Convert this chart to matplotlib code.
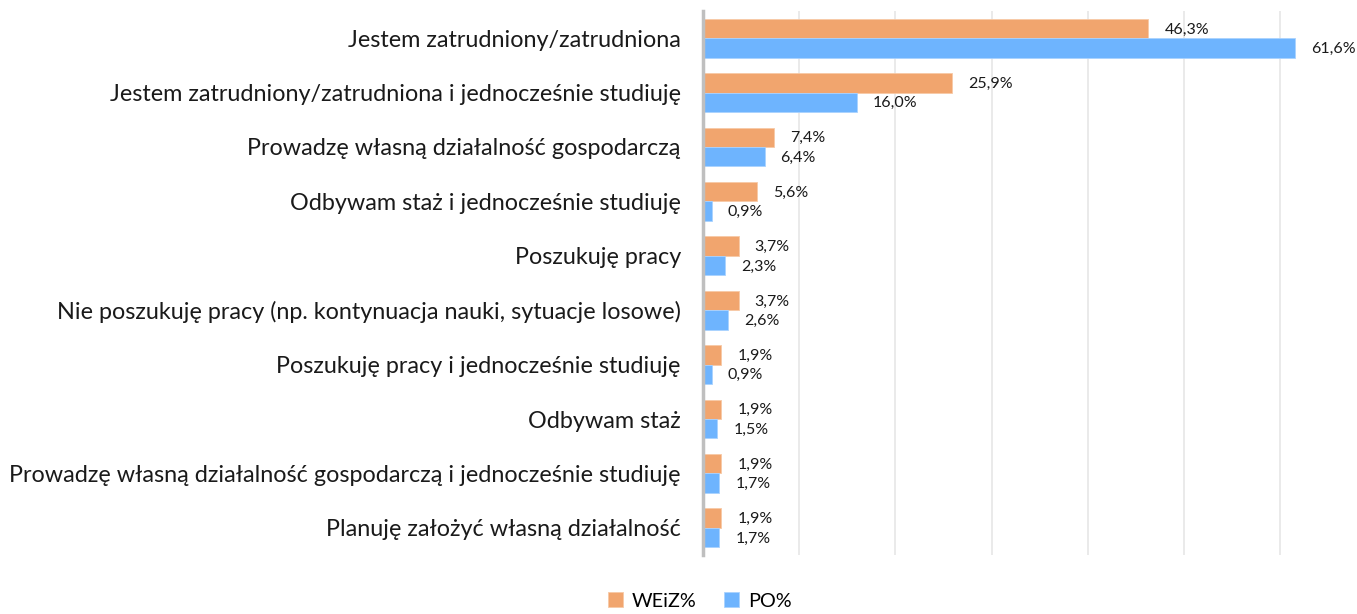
import matplotlib
matplotlib.use('Agg')
from matplotlib import pyplot as plt
import numpy as np

categories = [
    'Jestem zatrudniony/zatrudniona',
    'Jestem zatrudniony/zatrudniona i jednocześnie studiuję',
    'Prowadzę własną działalność gospodarczą',
    'Odbywam staż i jednocześnie studiuję',
    'Poszukuję pracy',
    'Nie poszukuję pracy (np. kontynuacja nauki, sytuacje losowe)',
    'Poszukuję pracy i jednocześnie studiuję',
    'Odbywam staż',
    'Prowadzę własną działalność gospodarczą i jednocześnie studiuję',
    'Planuję założyć własną działalność',
]
weiz = [46.3, 25.9, 7.4, 5.6, 3.7, 3.7, 1.9, 1.9, 1.9, 1.9]
po = [61.6, 16.0, 6.4, 0.9, 2.3, 2.6, 0.9, 1.5, 1.7, 1.7]
series_names = ['WEiZ%', 'PO%']

plt.rcParams['font.family'] = ['Lato', 'DejaVu Sans']

fig = plt.figure(figsize=(13.57, 6.14), dpi=100)
ax = fig.add_axes([703 / 1357, 1 - 555 / 614, 1 - 703 / 1357, 544 / 614])

y = np.arange(len(categories))
h = 0.355
orange = '#F1A56E'
blue = '#6EB4FE'

b1 = ax.barh(y - h / 2, weiz, height=h, color=orange, edgecolor='#f7c9a6', linewidth=0.6, zorder=3)
b2 = ax.barh(y + h / 2, po, height=h, color=blue, edgecolor='#a9d2ff', linewidth=0.6, zorder=3)

for bars, vals in [(b1, weiz), (b2, po)]:
    for bar, v in zip(bars, vals):
        ax.annotate(f'{v:.1f}%'.replace('.', ','),
                    (bar.get_width(), bar.get_y() + bar.get_height() / 2),
                    xytext=(16, -1), textcoords='offset pixels',
                    ha='left', va='center', fontsize=11.5, color='#1a1a1a')

ax.set_xlim(0, 68)
ax.set_ylim(len(categories) - 0.5, -0.5)
ax.set_xticks([10, 20, 30, 40, 50, 60])
ax.set_xticklabels([])
ax.tick_params(axis='x', length=0)
ax.tick_params(axis='y', length=0, pad=16)
ax.set_yticks(y)
ax.set_yticklabels(categories, fontsize=16.8, color='#1a1a1a')
ax.grid(axis='x', color='#e6e6e6', linewidth=1.2, zorder=0)
for s in ['top', 'right', 'bottom']:
    ax.spines[s].set_visible(False)
ax.spines['left'].set_color('#bfbfbf')
ax.spines['left'].set_linewidth(2.5)
ax.spines['left'].set_zorder(4)

fig.legend([b1, b2], series_names, loc='center', bbox_to_anchor=(700 / 1357, 1 - 601 / 614),
           ncol=2, frameon=False, fontsize=14.3, handlelength=0.75, handleheight=0.75,
           handletextpad=0.45, columnspacing=1.4)

fig.savefig('out.png', dpi=100)
